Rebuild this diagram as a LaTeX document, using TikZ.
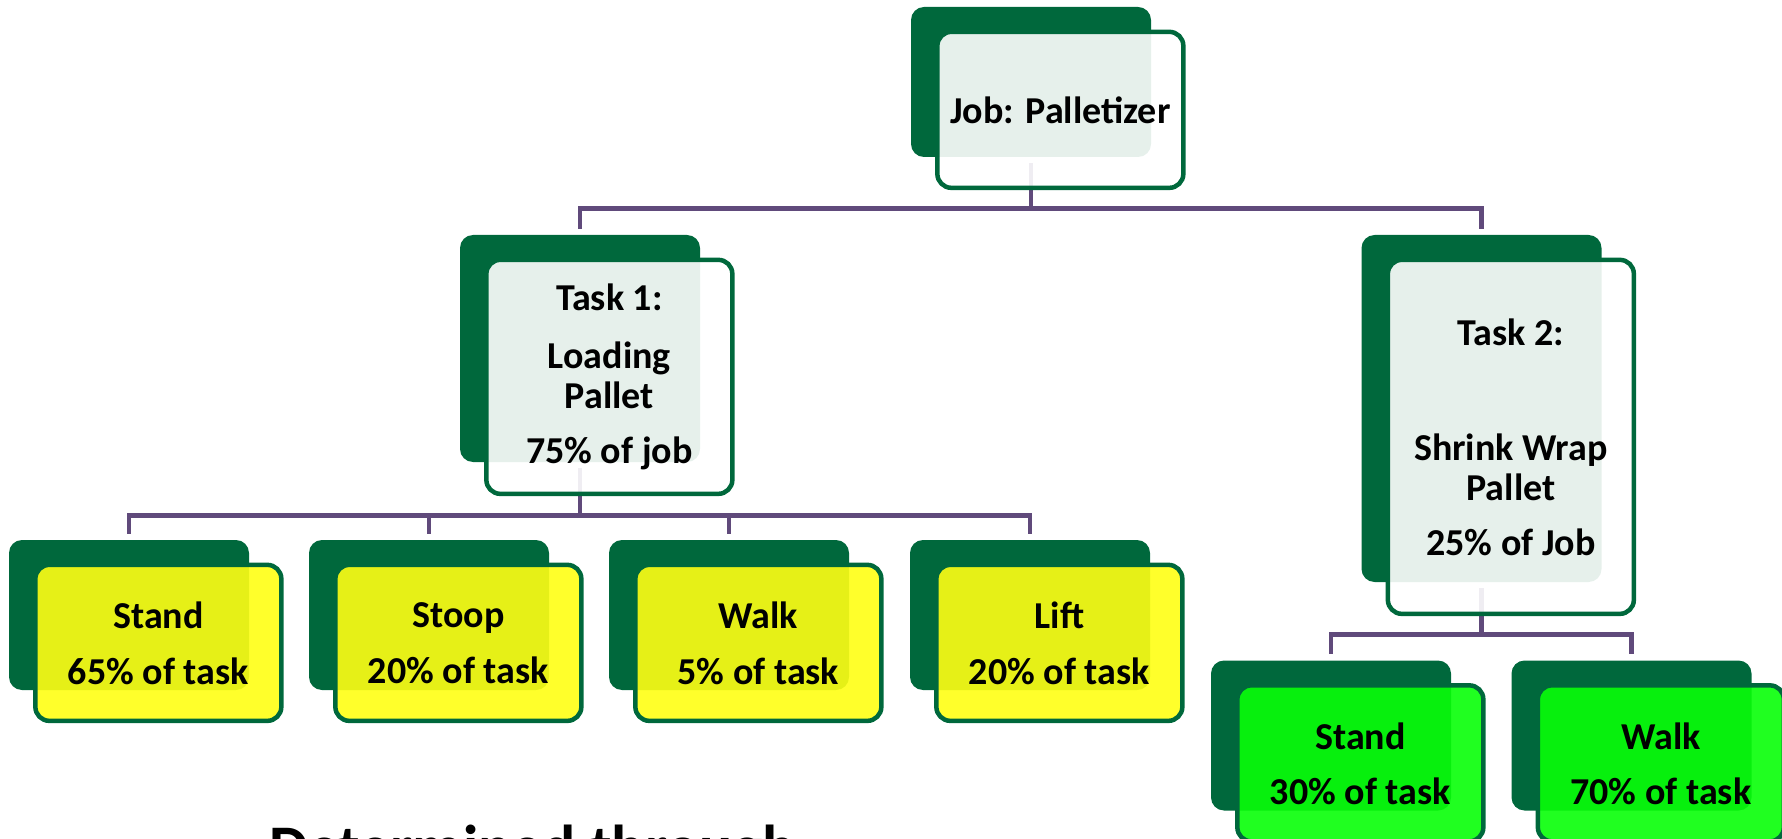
\documentclass[tikz,border=0pt]{standalone}
\usepackage{fontspec}
\setmainfont{Carlito}
\usepackage{xcolor}
\usepackage{tikz}
\usetikzlibrary{positioning,backgrounds}
\definecolor{dkgreen}{RGB}{0,104,60}
\definecolor{linkpurple}{RGB}{96,74,123}
\definecolor{taskyellow}{RGB}{255,255,20}
\definecolor{taskgreen}{RGB}{8,255,8}

\begin{document}
\begin{tikzpicture}[x=0.5pt,y=-0.5pt,
	every node/.style={font=\fontsize{19}{20}\selectfont\bfseries, align=center},
	backbox/.style={fill=dkgreen, rounded corners=6.5pt, inner sep=0pt,
		minimum width=120pt, minimum height=75pt},
	frontbox/.style={draw=dkgreen, line width=2.25pt, fill=white, fill opacity=0.9,
		text opacity=1, rounded corners=7pt, inner sep=0pt,
		minimum width=123pt, minimum height=78pt},
	link/.style={draw=linkpurple, line width=2.25pt, shorten <=3pt, shorten >=3pt}]
	\useasboundingbox (0,0) rectangle (1782,839);
	% Vẽ hộp công việc
	\node[backbox] (job-bk) at (1031,82) {};
	\node[frontbox, below right=11.5pt and 12.25pt of job-bk.north west] (job) {Job: Palletizer};
	% Vẽ hai nhiệm vụ
	\node[backbox, minimum height=113.5pt] (task1-bk) at (580,348.5) {};
	\node[frontbox, minimum height=117pt, below right=11.5pt and 12.25pt of task1-bk.north west] (task1)
		{Task 1:\\[9pt]Loading\\Pallet\\[7.5pt]75\% of job};
	\node[backbox, minimum height=173.5pt] (task2-bk) at (1481.5,408.5) {};
	\node[frontbox, minimum height=177pt, below right=11.5pt and 12.25pt of task2-bk.north west] (task2)
		{Task 2:\\[37.5pt]Shrink Wrap\\Pallet\\[7.5pt]25\% of Job};
	% Các tư thế của nhiệm vụ 1
	\foreach \x/\n/\a/\p in {129/stand/Stand/65, 429/stoop/Stoop/20, 729/walk/Walk/5, 1030/lift/Lift/20}
	{
		\node[backbox] (\n-bk) at (\x,615) {};
		\node[frontbox, fill=taskyellow, below right=11.5pt and 12.25pt of \n-bk.north west] (\n)
			{\a\\[8pt]\p\% of task};
	}
	% Các tư thế của nhiệm vụ 2
	\foreach \x/\n/\a/\p in {1331/stand2/Stand/30, 1631.5/walk2/Walk/70}
	{
		\node[backbox] (\n-bk) at (\x,735.5) {};
		\node[frontbox, fill=taskgreen, below right=11.5pt and 12.25pt of \n-bk.north west] (\n)
			{\a\\[7.5pt]\p\% of task};
	}
	% Vẽ đường nối
	\begin{scope}[on background layer]
		\draw[link] (job-bk.south) -- ++(0,51) -| (task1-bk.north);
		\draw[link] (job-bk.south) -- ++(0,51) -| (task2-bk.north);
		\foreach \n in {stand,stoop,walk,lift}
		\draw[link] (task1-bk.south) -- ++(0,53) -| (\n-bk.north);
		\foreach \n in {stand2,walk2}
		\draw[link] (task2-bk.south) -- ++(0,52) -| (\n-bk.north);
	\end{scope}
	\node[font=\fontsize{31}{34}\selectfont\bfseries, anchor=base west] (note) at (262,868) {Determined through};
\end{tikzpicture}
\end{document}
